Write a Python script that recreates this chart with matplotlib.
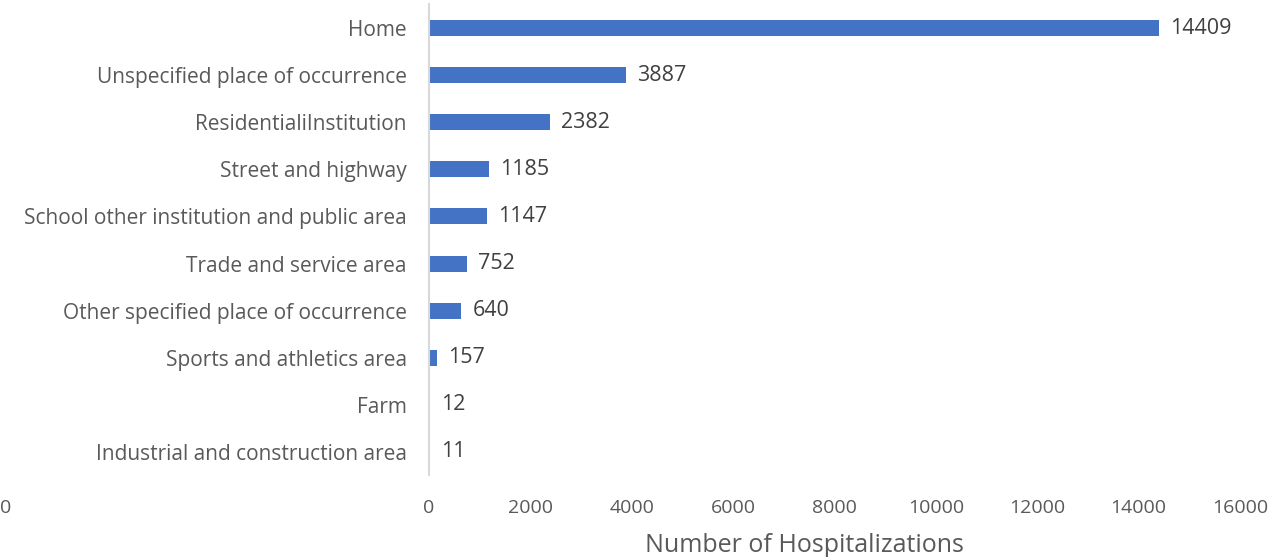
import numpy as np
import matplotlib.pyplot as plt

# place of occurrence categories (top to bottom) and hospitalization counts
categories = ["Home", "Unspecified place of occurrence", "ResidentialiInstitution",
              "Street and highway", "School other institution and public area",
              "Trade and service area", "Other specified place of occurrence",
              "Sports and athletics area", "Farm", "Industrial and construction area"]
counts = [14409, 3887, 2382, 1185, 1147, 752, 640, 157, 12, 11]
x_ticks = [0, 2000, 4000, 6000, 8000, 10000, 12000, 14000, 16000]

plt.rcParams['font.family'] = ['Open Sans', 'DejaVu Sans']
txt = "#595959"

fig = plt.figure(figsize=(12.86, 5.57), dpi=100)
ax = fig.add_axes([429/1286, 1 - 475.5/557, 811/1286, 471/557])

y = np.arange(len(categories))
ax.barh(y, counts, height=0.34, color="#4472C4")
for yi, v in zip(y, counts):
    ax.text(v + 220, yi, str(v), va="center", ha="left", fontsize=15.5, color="#404040")

ax.set_ylim(len(categories) - 0.5, -0.5)
ax.set_xlim(0, 16000)
ax.set_yticks(y)
ax.set_yticklabels(categories, fontsize=15, color=txt)
ax.set_xticks(x_ticks)
ax.set_xticklabels([str(t) for t in x_ticks], fontsize=14, color=txt)
ax.tick_params(axis="both", length=0)
ax.tick_params(axis="y", pad=16)
ax.tick_params(axis="x", pad=17)
for s in ["top", "right", "bottom"]:
    ax.spines[s].set_visible(False)
ax.spines["left"].set_color("#D9D9D9")
ax.spines["left"].set_linewidth(1.5)

fig.text(804/1286, 1 - 545/557, "Number of Hospitalizations", ha="center", va="center",
         fontsize=18, color=txt)
fig.text(0.0, 1 - 508/557, "0", ha="left", va="center", fontsize=14, color=txt)

fig.savefig("out.png", dpi=100)
